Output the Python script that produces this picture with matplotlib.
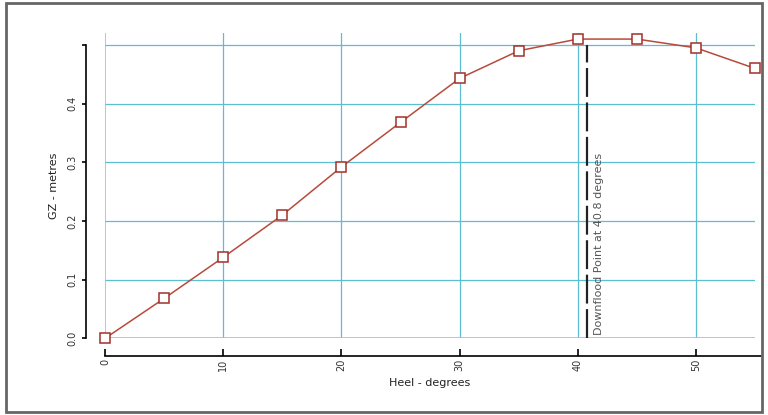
import matplotlib
matplotlib.use("Agg")
import matplotlib.pyplot as plt
from matplotlib.patches import Rectangle

# GZ curve values
heel = [0, 5, 10, 15, 20, 25, 30, 35, 40, 45, 50, 55]
gz = [0.0, 0.068, 0.138, 0.21, 0.292, 0.368, 0.443, 0.49, 0.51, 0.51, 0.495, 0.46]
downflood = 40.8
downflood_label = "Downflood Point at 40.8 degrees"
xticks = [0, 10, 20, 30, 40, 50]
yticks = [0.0, 0.1, 0.2, 0.3, 0.4, 0.5]
yticklabels = ["0.0", "0.1", "0.2", "0.3", "0.4", ""]

fig = plt.figure(figsize=(7.68, 4.15), dpi=100)
ax = fig.add_axes([0.137, 0.185, 0.846, 0.735])

# spines first: set_position resets the tick styling
for s in ["top", "right"]:
    ax.spines[s].set_visible(False)
ax.spines["left"].set_position(("outward", 14))
ax.spines["bottom"].set_position(("outward", 13))

# grid
for x in xticks[1:]:
    ax.axvline(x, color="#5bbfd0", lw=0.9, zorder=1)
for y in yticks[1:]:
    ax.axhline(y, color="#5bbfd0", lw=0.9, zorder=1)
ax.axvline(0, color="#a8d070", lw=1.2, zorder=1)
ax.axhline(0, color="#a8d070", lw=1.2, zorder=1)

# downflood line
ax.plot([downflood, downflood], [0, 0.5], color="#222222", lw=1.6,
        dashes=(13, 2.5), zorder=3)
ax.text(downflood + 0.55, 0.005, downflood_label, rotation=90, fontsize=8,
        color="#555555", ha="left", va="bottom", zorder=3)

ax.plot(heel, gz, color="#b84a3c", lw=1.1, marker="s", markersize=7,
        markerfacecolor="white", markeredgecolor="#a0302a", markeredgewidth=1.1,
        clip_on=False, zorder=4)

ax.set_xlim(0, 55)
ax.set_ylim(0, 0.52)
ax.spines["left"].set_bounds(0, 0.5)
ax.spines["bottom"].set_bounds(0, 55.5)
ax.spines["left"].set_linewidth(1.2)
ax.spines["bottom"].set_linewidth(1.2)

ax.set_xticks(xticks)
ax.set_xticklabels([str(x) for x in xticks], rotation=90, fontsize=7, color="#333333")
ax.set_yticks(yticks)
ax.set_yticklabels(yticklabels, rotation=90, fontsize=7, color="#333333", va="center")
ax.tick_params(axis="x", direction="in", length=5, width=1.2, pad=2)
ax.tick_params(axis="y", direction="out", length=3, width=1.2, pad=3)

ax.set_xlabel("Heel - degrees", fontsize=8, color="#222222", labelpad=5)
ax.set_ylabel("GZ - metres", fontsize=8, color="#222222", labelpad=6)

fig.patches.append(Rectangle((0.008, 0.008), 0.984, 0.984, transform=fig.transFigure,
                             fill=False, edgecolor="#666666", lw=2))

plt.savefig("out.png", dpi=100)
